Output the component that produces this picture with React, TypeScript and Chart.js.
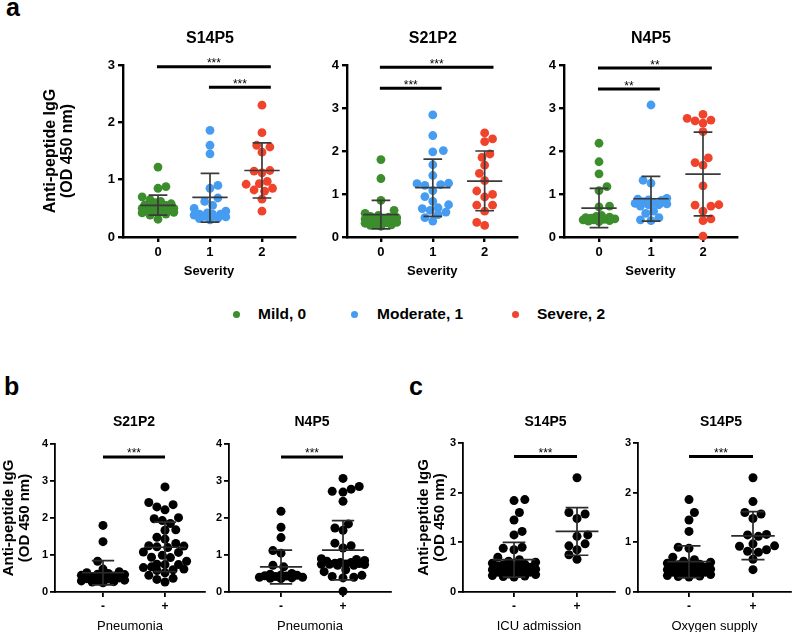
import React, { useEffect, useRef } from "react";
import { Chart, registerables } from "chart.js";

Chart.register(...registerables);

const FONT = "'Liberation Sans', Arial, Helvetica, sans-serif";

// ---------------- Data ----------------
const severityLabels = ["0", "1", "2"];
const binaryLabels = ["-", "+"];
const legendLabels = ["Mild, 0", "Moderate, 1", "Severe, 2"];
const severityColors = ["#3c8d2c", "#459cf1", "#f0432c"];
const blackColors = ["#000000", "#000000"];

// Panel a — S14P5 by severity
const s14p5Mild = [1.22, 0.88, 0.85, 0.7, 0.65, 0.62, 0.6, 0.58, 0.56, 0.55, 0.53, 0.52, 0.5, 0.5, 0.48, 0.47, 0.46, 0.45, 0.44, 0.43, 0.42, 0.4, 0.38, 0.31];
const s14p5Moderate = [1.86, 1.6, 1.45, 0.9, 0.85, 0.68, 0.62, 0.55, 0.5, 0.45, 0.42, 0.4, 0.4, 0.4, 0.38, 0.36, 0.35, 0.33, 0.32, 0.3];
const s14p5Severe = [2.3, 1.82, 1.6, 1.57, 1.48, 1.16, 1.15, 1.12, 0.97, 0.93, 0.92, 0.85, 0.82, 0.8, 0.66, 0.45];
const s14p5Stats = [[0.55, 0.38, 0.73], [0.69, 0.26, 1.11], [1.16, 0.68, 1.64]]; // mean, SD low, SD high
const s14p5Sig = [[0, 2, 2.97, "***"], [1, 2, 2.61, "***"]];

// Panel a — S21P2 by severity
const s21p2Mild = [1.8, 1.36, 0.85, 0.62, 0.55, 0.5, 0.48, 0.46, 0.45, 0.43, 0.42, 0.4, 0.38, 0.37, 0.35, 0.34, 0.33, 0.32, 0.3, 0.28, 0.27, 0.25];
const s21p2Moderate = [2.84, 2.36, 2.01, 1.98, 1.68, 1.43, 1.25, 1.24, 1.22, 1.2, 1.08, 0.94, 0.83, 0.75, 0.68, 0.66, 0.62, 0.58, 0.52, 0.45, 0.37];
const s21p2Severe = [2.42, 2.28, 2.22, 1.93, 1.85, 1.67, 1.48, 1.31, 1.07, 0.99, 0.93, 0.74, 0.74, 0.6, 0.34, 0.27];
const s21p2Stats = [[0.52, 0.19, 0.85], [1.15, 0.48, 1.81], [1.3, 0.61, 2.0]];
const s21p2Sig = [[0, 2, 3.95, "***"], [0, 1, 3.46, "***"]];

// Panel a — N4P5 by severity
const n4p5Mild = [2.18, 1.75, 1.47, 1.17, 1.08, 0.72, 0.7, 0.5, 0.48, 0.46, 0.45, 0.44, 0.43, 0.42, 0.41, 0.4, 0.4, 0.38, 0.37, 0.36];
const n4p5Moderate = [3.07, 1.32, 1.25, 0.9, 0.88, 0.86, 0.85, 0.82, 0.8, 0.78, 0.77, 0.75, 0.75, 0.72, 0.6, 0.55, 0.45, 0.4, 0.38];
const n4p5Severe = [2.85, 2.76, 2.72, 2.7, 2.65, 2.45, 1.84, 1.73, 1.67, 1.19, 0.75, 0.74, 0.72, 0.6, 0.42, 0.38, 0.02];
const n4p5Stats = [[0.67, 0.22, 1.13], [0.89, 0.37, 1.41], [1.46, 0.49, 2.44]];
const n4p5Sig = [[0, 2, 3.93, "**"], [0, 1, 3.44, "**"]];

// Panel b — Pneumonia
const pneuS21p2Neg = [1.8, 1.36, 0.83, 0.62, 0.55, 0.52, 0.5, 0.48, 0.47, 0.45, 0.43, 0.42, 0.4, 0.38, 0.36, 0.35, 0.33, 0.32, 0.3, 0.28, 0.27, 0.25];
const pneuS21p2Pos = [2.84, 2.42, 2.36, 2.3, 2.22, 2.01, 1.98, 1.93, 1.85, 1.68, 1.67, 1.48, 1.43, 1.31, 1.25, 1.24, 1.22, 1.2, 1.08, 1.07, 0.99, 0.94, 0.93, 0.83, 0.75, 0.74, 0.74, 0.68, 0.66, 0.62, 0.6, 0.58, 0.52, 0.45, 0.37, 0.34, 0.27];
const pneuS21p2Stats = [[0.52, 0.19, 0.85], [1.21, 0.55, 1.89]];
const pneuS21p2Sig = [[0, 1, 3.65, "***"]];

const pneuN4p5Neg = [2.18, 1.75, 1.47, 1.12, 1.05, 0.72, 0.68, 0.5, 0.48, 0.46, 0.45, 0.44, 0.43, 0.42, 0.4, 0.4, 0.38, 0.37, 0.36];
const pneuN4p5Pos = [3.07, 2.85, 2.78, 2.72, 2.7, 2.45, 1.84, 1.73, 1.67, 1.32, 1.25, 1.19, 0.9, 0.88, 0.85, 0.83, 0.8, 0.8, 0.78, 0.77, 0.76, 0.75, 0.75, 0.74, 0.72, 0.72, 0.6, 0.55, 0.45, 0.42, 0.4, 0.38, 0.02];
const pneuN4p5Stats = [[0.68, 0.22, 1.13], [1.13, 0.33, 1.93]];
const pneuN4p5Sig = [[0, 1, 3.65, "***"]];

// Panel c — ICU admission / Oxygen supply (S14P5)
const icuNeg = [1.86, 1.84, 1.6, 1.45, 1.22, 1.15, 0.9, 0.88, 0.85, 0.7, 0.65, 0.62, 0.6, 0.58, 0.56, 0.55, 0.53, 0.52, 0.5, 0.48, 0.47, 0.46, 0.45, 0.44, 0.43, 0.42, 0.4, 0.4, 0.38, 0.36, 0.35, 0.33, 0.32, 0.31, 0.3];
const icuPos = [2.3, 1.6, 1.57, 1.48, 1.15, 1.12, 0.97, 0.93, 0.85, 0.75, 0.66];
const icuStats = [[0.65, 0.3, 1.0], [1.22, 0.74, 1.7]];
const icuSig = [[0, 1, 2.73, "***"]];

const oxyNeg = [1.86, 1.6, 1.45, 1.22, 0.9, 0.88, 0.7, 0.65, 0.62, 0.6, 0.58, 0.56, 0.55, 0.53, 0.52, 0.5, 0.48, 0.47, 0.46, 0.45, 0.44, 0.43, 0.42, 0.4, 0.4, 0.38, 0.36, 0.35, 0.33, 0.32, 0.31, 0.3];
const oxyPos = [2.3, 1.82, 1.6, 1.57, 1.48, 1.16, 1.15, 1.12, 0.97, 0.93, 0.92, 0.85, 0.82, 0.8, 0.66, 0.45];
const oxyStats = [[0.61, 0.29, 0.93], [1.13, 0.65, 1.62]];
const oxySig = [[0, 1, 2.73, "***"]];

const yAxisTitle = ["Anti-peptide IgG", "(OD 450 nm)"];

// ---------------- Helpers ----------------
function swarm(values: number[], cat: number, pxY: number, pxX: number, r: number, maxOff: number) {
  const order = values.map((_, i) => i).sort((a, b) => values[a] - values[b]);
  const placed: { x: number; y: number }[] = [];
  const out: { x: number; y: number }[] = new Array(values.length);
  const step = r * 0.6;
  let flip = 1;
  for (const i of order) {
    const y = values[i] * pxY;
    let best = 0;
    let bestScore = -Infinity;
    let found = false;
    for (let k = 0; k * step <= maxOff && !found; k++) {
      const signs = k === 0 ? [0] : [flip, -flip];
      for (const s of signs) {
        const x = s * k * step;
        let minD = Infinity;
        for (const p of placed) minD = Math.min(minD, Math.hypot(p.x - x, p.y - y));
        if (minD >= 2 * r * 0.92) {
          best = x;
          found = true;
          break;
        }
        if (minD > bestScore) {
          bestScore = minD;
          best = x;
        }
      }
    }
    flip = -flip;
    placed.push({ x: best, y });
    out[i] = { x: cat + best / pxX, y: values[i] };
  }
  return out;
}

type Spec = {
  geo: { x: number; y: number; w: number; h: number; L: number; T: number; R: number; B: number };
  title: string;
  titleY: number;
  titleSize: number;
  xTitle: string;
  xTitleBold: boolean;
  xTitleSize: number;
  xTitleY: number;
  yTitleX?: number;
  yTitleSize?: number;
  yTitleGap?: number;
  labels: string[];
  xmin: number;
  xmax: number;
  ymax: number;
  groups: number[][];
  colors: string[];
  stats: number[][];
  sig: any[];
  sigExt: number[];
  radius: number;
  maxOff: number;
  axisW: number;
  errColor: string;
  yTickSize: number;
  xTickSize: number;
  yTickPad: number;
  xTickPad: number;
};

function Panel({ spec }: { spec: Spec }) {
  const ref = useRef<HTMLCanvasElement | null>(null);
  useEffect(() => {
    const g = spec.geo;
    const pxY = (g.B - g.T) / spec.ymax;
    const pxX = (g.R - g.L) / (spec.xmax - spec.xmin);
    const datasets = spec.groups.map((vals, i) => ({
      data: swarm(vals, i, pxY, pxX, spec.radius, spec.maxOff),
      backgroundColor: spec.colors[i],
      borderWidth: 0,
      pointRadius: spec.radius,
      pointHoverRadius: spec.radius,
      clip: false as any,
    }));

    const annot = {
      id: "annot",
      afterDatasetsDraw(chart: any) {
        const ctx = chart.ctx;
        const xs = chart.scales.x;
        const ys = chart.scales.y;
        ctx.save();
        ctx.strokeStyle = spec.errColor;
        ctx.lineWidth = 1.7;
        spec.stats.forEach((st, i) => {
          const [m, lo, hi] = st;
          const cx = xs.getPixelForValue(i);
          const mw = xs.getPixelForValue(i + 0.34) - cx;
          const cw = xs.getPixelForValue(i + 0.18) - cx;
          const yM = ys.getPixelForValue(m);
          const yL = ys.getPixelForValue(lo);
          const yH = ys.getPixelForValue(hi);
          ctx.beginPath();
          ctx.moveTo(cx, yL);
          ctx.lineTo(cx, yH);
          ctx.moveTo(cx - mw, yM);
          ctx.lineTo(cx + mw, yM);
          ctx.moveTo(cx - cw, yL);
          ctx.lineTo(cx + cw, yL);
          ctx.moveTo(cx - cw, yH);
          ctx.lineTo(cx + cw, yH);
          ctx.stroke();
        });
        ctx.restore();
      },
      afterDraw(chart: any) {
        const ctx = chart.ctx;
        const xs = chart.scales.x;
        const ys = chart.scales.y;
        ctx.save();
        ctx.fillStyle = "#000";
        ctx.strokeStyle = "#000";
        ctx.lineWidth = 3;
        ctx.textAlign = "center";
        for (const s of spec.sig) {
          const [a, b, v, lab] = s;
          const x1 = xs.getPixelForValue(a + spec.sigExt[0]);
          const x2 = xs.getPixelForValue(b + spec.sigExt[1]);
          const y = ys.getPixelForValue(v);
          ctx.beginPath();
          ctx.moveTo(x1, y);
          ctx.lineTo(x2, y);
          ctx.stroke();
          ctx.font = `12px ${FONT}`;
          ctx.textBaseline = "alphabetic";
          ctx.fillText(lab, (x1 + x2) / 2, y + 0.5);
        }
        ctx.font = `bold ${spec.titleSize}px ${FONT}`;
        ctx.textBaseline = "middle";
        ctx.fillText(spec.title, xs.getPixelForValue((spec.labels.length - 1) / 2), spec.titleY - g.y);
        ctx.restore();
      },
    };

    const yTitle = spec.yTitleX
      ? {
          display: true,
          text: yAxisTitle,
          color: "#000",
          font: { family: FONT, size: spec.yTitleSize, weight: "bold", lineHeight: (spec.yTitleGap as number) / (spec.yTitleSize as number) },
          padding: { top: (spec.yTitleX as number) - g.x - (spec.yTitleGap as number) / 2, bottom: 0 },
        }
      : { display: false };

    const chart = new Chart(ref.current as HTMLCanvasElement, {
      type: "scatter",
      data: { datasets } as any,
      options: {
        responsive: false,
        animation: false,
        events: [],
        layout: { padding: { left: 0, top: g.T - g.y, right: g.x + g.w - g.R, bottom: 0 } },
        plugins: { legend: { display: false }, tooltip: { enabled: false }, title: { display: false } },
        scales: {
          x: {
            type: "linear",
            position: "bottom",
            min: spec.xmin,
            max: spec.xmax,
            afterFit: (s: any) => {
              s.height = g.y + g.h - g.B;
            },
            afterBuildTicks: (axis: any) => {
              axis.ticks = spec.labels.map((_, i) => ({ value: i }));
            },
            ticks: {
              callback: (v: any) => spec.labels[Math.round(v)] ?? "",
              color: "#000",
              padding: spec.xTickPad,
              maxRotation: 0,
              font: { family: FONT, size: spec.xTickSize, weight: "bold" },
            },
            grid: { drawOnChartArea: false, drawTicks: true, tickLength: 5, color: "#000", lineWidth: spec.axisW },
            border: { display: true, color: "#000", width: spec.axisW },
            title: {
              display: true,
              text: spec.xTitle,
              color: "#000",
              font: { family: FONT, size: spec.xTitleSize, weight: spec.xTitleBold ? "bold" : "normal", lineHeight: 1 },
              padding: { top: 0, bottom: g.y + g.h - spec.xTitleY - spec.xTitleSize / 2 },
            },
          },
          y: {
            type: "linear",
            min: 0,
            max: spec.ymax,
            afterFit: (s: any) => {
              s.width = g.L - g.x;
            },
            ticks: {
              stepSize: 1,
              color: "#000",
              padding: spec.yTickPad,
              font: { family: FONT, size: spec.yTickSize, weight: "bold" },
            },
            grid: { drawOnChartArea: false, drawTicks: true, tickLength: 5, color: "#000", lineWidth: spec.axisW },
            border: { display: true, color: "#000", width: spec.axisW },
            title: yTitle as any,
          },
        },
      } as any,
      plugins: [annot as any],
    });
    return () => chart.destroy();
  }, [spec]);
  const g = spec.geo;
  return <canvas ref={ref} width={g.w} height={g.h} style={{ position: "absolute", left: g.x, top: g.y, width: g.w, height: g.h }} />;
}

const aCommon = {
  titleY: 39,
  titleSize: 16,
  xTitle: "Severity",
  xTitleBold: true,
  xTitleSize: 13,
  xTitleY: 271,
  labels: severityLabels,
  colors: severityColors,
  sigExt: [-0.02, 0.17],
  radius: 4.4,
  maxOff: 17,
  axisW: 2.4,
  errColor: "#3a3a3a",
  yTickSize: 13,
  xTickSize: 13,
  yTickPad: 3,
  xTickPad: 3,
};

const bcCommon = {
  titleY: 422,
  titleSize: 14,
  xTitleBold: false,
  xTitleSize: 13,
  xTitleY: 626,
  labels: binaryLabels,
  colors: blackColors,
  sigExt: [0, 0],
  radius: 4.5,
  maxOff: 24,
  axisW: 1.8,
  errColor: "#2a2a2a",
  yTickSize: 11,
  xTickSize: 12,
  yTickPad: 2,
  xTickPad: 2,
};

const specs: Spec[] = [
  {
    ...aCommon,
    geo: { x: 30, y: 20, w: 272, h: 265, L: 123, T: 65, R: 295, B: 237 },
    title: "S14P5",
    yTitleX: 51,
    yTitleSize: 16,
    yTitleGap: 17,
    xmin: -0.673,
    xmax: 2.635,
    ymax: 3,
    groups: [s14p5Mild, s14p5Moderate, s14p5Severe],
    stats: s14p5Stats,
    sig: s14p5Sig,
  },
  {
    ...aCommon,
    geo: { x: 302, y: 20, w: 220, h: 265, L: 347, T: 65, R: 518, B: 237 },
    title: "S21P2",
    xmin: -0.654,
    xmax: 2.635,
    ymax: 4,
    groups: [s21p2Mild, s21p2Moderate, s21p2Severe],
    stats: s21p2Stats,
    sig: s21p2Sig,
  },
  {
    ...aCommon,
    geo: { x: 522, y: 20, w: 222, h: 265, L: 564, T: 65, R: 737, B: 237 },
    title: "N4P5",
    xmin: -0.673,
    xmax: 2.654,
    ymax: 4,
    groups: [n4p5Mild, n4p5Moderate, n4p5Severe],
    stats: n4p5Stats,
    sig: n4p5Sig,
  },
  {
    ...bcCommon,
    geo: { x: 0, y: 405, w: 210, h: 227, L: 55, T: 444, R: 205, B: 592 },
    title: "S21P2",
    xTitle: "Pneumonia",
    yTitleX: 9,
    yTitleSize: 15,
    yTitleGap: 15.5,
    xmin: -0.774,
    xmax: 1.645,
    ymax: 4,
    groups: [pneuS21p2Neg, pneuS21p2Pos],
    stats: pneuS21p2Stats,
    sig: pneuS21p2Sig,
  },
  {
    ...bcCommon,
    geo: { x: 210, y: 405, w: 186, h: 227, L: 229, T: 444, R: 391, B: 592 },
    title: "N4P5",
    xTitle: "Pneumonia",
    xmin: -0.839,
    xmax: 1.774,
    ymax: 4,
    groups: [pneuN4p5Neg, pneuN4p5Pos],
    stats: pneuN4p5Stats,
    sig: pneuN4p5Sig,
  },
  {
    ...bcCommon,
    geo: { x: 405, y: 405, w: 218, h: 227, L: 463, T: 443, R: 615, B: 592 },
    title: "S14P5",
    xTitle: "ICU admission",
    yTitleX: 424,
    yTitleSize: 15,
    yTitleGap: 15.5,
    xmin: -0.81,
    xmax: 1.603,
    ymax: 3,
    groups: [icuNeg, icuPos],
    stats: icuStats,
    sig: icuSig,
  },
  {
    ...bcCommon,
    geo: { x: 623, y: 405, w: 173, h: 227, L: 638, T: 443, R: 791, B: 592 },
    title: "S14P5",
    xTitle: "Oxygen supply",
    xmin: -0.797,
    xmax: 1.594,
    ymax: 3,
    groups: [oxyNeg, oxyPos],
    stats: oxyStats,
    sig: oxySig,
  },
];

const legendDotX = [236, 354, 515];
const legendTextX = [258, 377, 537];

export default function App() {
  return (
    <div style={{ position: "absolute", left: 0, top: 0, width: 796, height: 632, background: "#fff", overflow: "hidden", fontFamily: FONT }}>
      {specs.map((s, i) => (
        <Panel key={i} spec={s} />
      ))}
      {[
        ["a", 6, -5],
        ["b", 4, 374],
        ["c", 409, 374],
      ].map(([t, x, y]) => (
        <div key={t as string} style={{ position: "absolute", left: x as number, top: y as number, fontSize: 25, lineHeight: "25px", fontWeight: "bold", color: "#000" }}>
          {t}
        </div>
      ))}
      {legendLabels.map((lab, i) => (
        <React.Fragment key={lab}>
          <div style={{ position: "absolute", left: legendDotX[i] - 3.5, top: 314 - 3.5, width: 7, height: 7, borderRadius: "50%", background: severityColors[i] }} />
          <div style={{ position: "absolute", left: legendTextX[i], top: 305, fontSize: 15.5, lineHeight: "18px", fontWeight: "bold", color: "#000", whiteSpace: "nowrap" }}>
            {lab}
          </div>
        </React.Fragment>
      ))}
    </div>
  );
}
